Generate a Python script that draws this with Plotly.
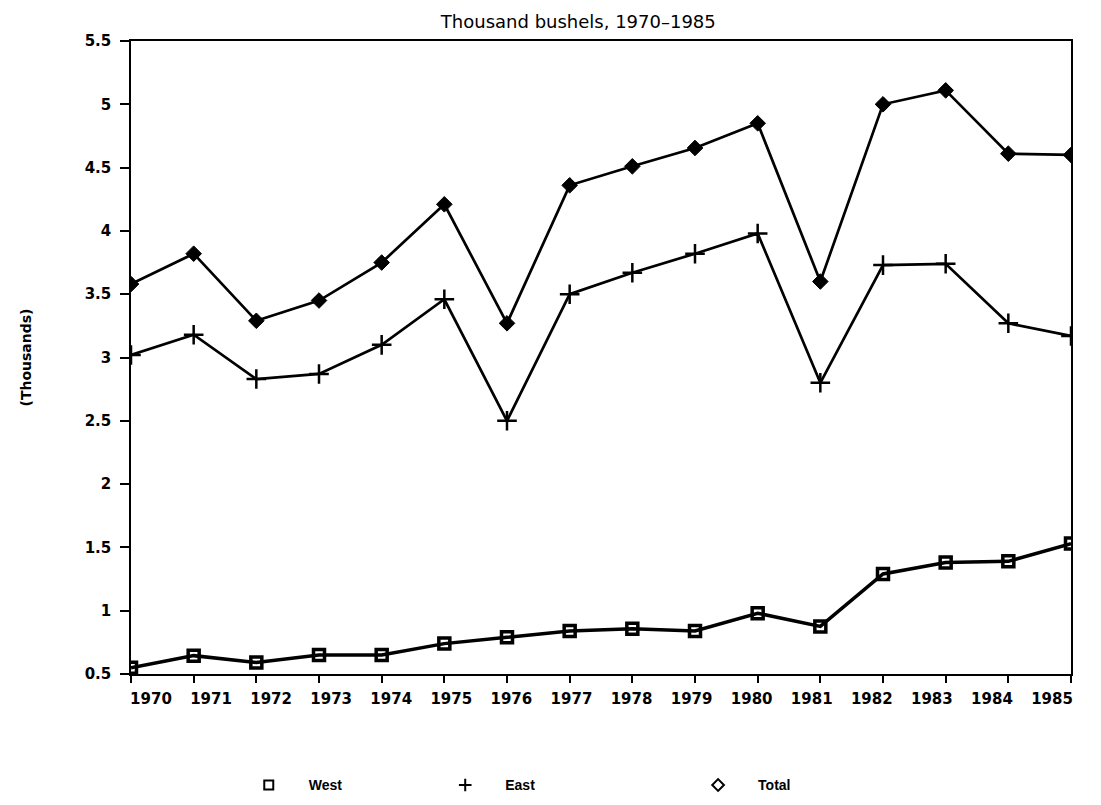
import plotly.graph_objects as go

years = list(range(1970, 1986))
west = [0.55, 0.645, 0.59, 0.65, 0.65, 0.74, 0.79, 0.84, 0.857, 0.84, 0.98, 0.876, 1.29, 1.38, 1.39, 1.53]
east = [3.02, 3.18, 2.83, 2.87, 3.10, 3.46, 2.50, 3.50, 3.67, 3.82, 3.98, 2.80, 3.73, 3.74, 3.27, 3.17]
total = [3.58, 3.82, 3.29, 3.45, 3.75, 4.21, 3.27, 4.36, 4.51, 4.655, 4.85, 3.60, 5.00, 5.11, 4.61, 4.60]
series_names = ["West", "East", "Total"]
y_ticks = [0.5, 1, 1.5, 2, 2.5, 3, 3.5, 4, 4.5, 5, 5.5]
year_labels = [str(y) for y in years]
title_text = "Thousand bushels, 1970–1985"
y_title = "(Thousands)"

tick_font = "DejaVu Sans"

fig = go.Figure()

styles = {
    "West": dict(symbol="square-open", size=11, lw=3.5, mlw=3.5),
    "East": dict(symbol="cross-thin", size=14, lw=2.7, mlw=2.5),
    "Total": dict(symbol="diamond", size=12, lw=2.7, mlw=1),
}
legend_symbols = {"West": "square-open", "East": "cross-thin", "Total": "diamond-open"}
legend_ids = {"West": "legend", "East": "legend2", "Total": "legend3"}

for name, vals in zip(series_names, [west, east, total]):
    st = styles[name]
    fig.add_trace(go.Scatter(
        x=years, y=vals, mode="lines+markers", name=name, showlegend=False,
        line=dict(color="black", width=st["lw"]),
        marker=dict(symbol=st["symbol"], size=st["size"], color="black",
                    line=dict(color="black", width=st["mlw"])),
    ))

# key entries (marker only, as in the original key)
for name in series_names:
    fig.add_trace(go.Scatter(
        x=[None], y=[None], mode="markers", name=name, showlegend=True,
        legend=legend_ids[name],
        marker=dict(symbol=legend_symbols[name], size=9, color="black",
                    line=dict(color="black", width=2)),
    ))

# helper trace so the label axis (plotter-style label spacing) is drawn
fig.add_trace(go.Scatter(x=[None], y=[None], xaxis="x2", showlegend=False,
                         hoverinfo="skip", mode="markers"))

legend_common = dict(orientation="h", xanchor="left", y=-0.176, yanchor="middle",
                     itemwidth=70, bgcolor="rgba(0,0,0,0)",
                     font=dict(family="Liberation Sans", size=14, weight="bold", color="black"))

fig.update_layout(
    width=1101, height=805,
    paper_bgcolor="white", plot_bgcolor="white",
    margin=dict(l=123, r=38, t=33, b=115),
    font=dict(family=tick_font, color="black", size=14),
    title=dict(text=title_text, x=0.518, xanchor="center", y=0.983, yanchor="middle",
               font=dict(family=tick_font, size=18, color="black")),
    showlegend=True,
    legend=dict(x=0.104, **legend_common),
    legend2=dict(x=0.313, **legend_common),
    legend3=dict(x=0.582, **legend_common),
    xaxis=dict(
        range=[1970, 1985], tickmode="array", tickvals=years, showticklabels=False,
        showgrid=False, zeroline=False, showline=True, linecolor="black", linewidth=1.5,
        mirror=True, ticks="outside", ticklen=7, tickwidth=1.5, tickcolor="black",
    ),
    # labels printed slightly compressed relative to tick marks, as in the plotter original
    xaxis2=dict(
        overlaying="x", anchor="y", side="bottom",
        range=[1969.668, 1985.316], tickmode="array", tickvals=years, ticktext=year_labels,
        showgrid=False, zeroline=False, showline=False, ticks="",
        ticklabelstandoff=14,
        tickfont=dict(family=tick_font, size=15, weight="bold"),
    ),
    yaxis=dict(
        range=[0.5, 5.5], tickmode="array", tickvals=y_ticks,
        showgrid=False, zeroline=False, showline=True, linecolor="black", linewidth=1.5,
        mirror=True, ticks="outside", ticklen=9, tickwidth=1.5, tickcolor="black",
        ticklabelstandoff=6,
        tickfont=dict(family=tick_font, size=15, weight="bold"),
        title=dict(text=y_title, standoff=50, font=dict(family=tick_font, size=14, weight="bold")),
    ),
)

fig.write_html("out.html")
